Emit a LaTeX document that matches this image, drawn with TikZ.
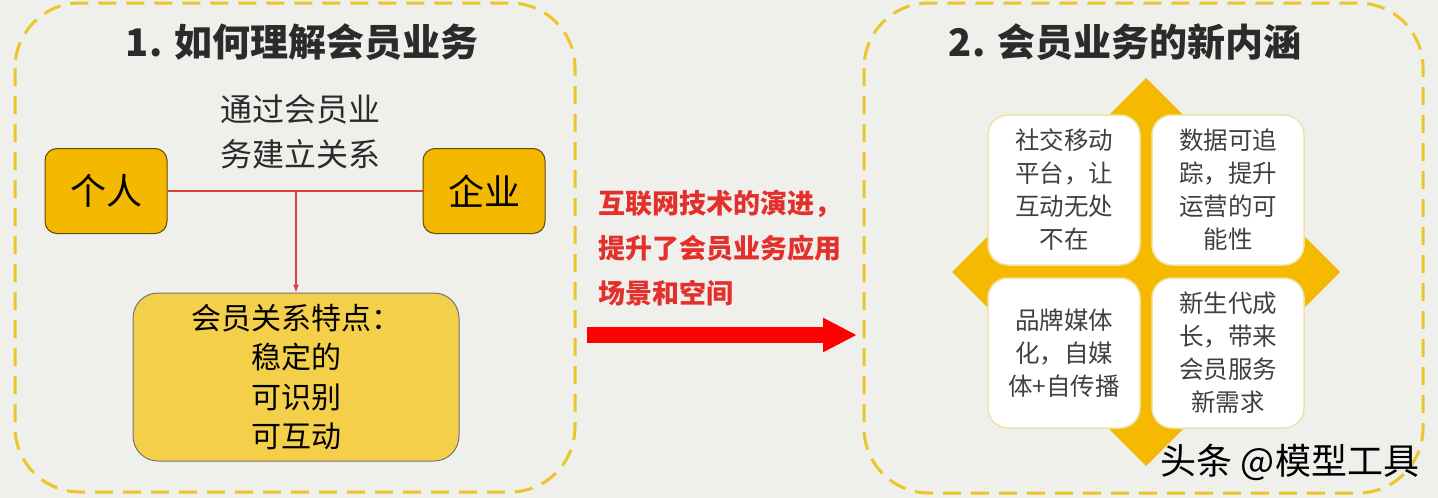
\documentclass[tikz,border=0pt]{standalone}
\usepackage{fontspec}
\setmainfont{Noto Sans CJK SC}
\usetikzlibrary{arrows.meta}
\definecolor{hintergrund}{HTML}{EFEFEC}
\definecolor{rahmengelb}{HTML}{EBC62A}
\definecolor{orangegelb}{HTML}{F5B800}
\definecolor{hellgelb}{HTML}{F4D04A}
\definecolor{linienrot}{HTML}{D9403A}
\definecolor{textrot}{HTML}{E3302D}
\definecolor{rautegelb}{HTML}{F5BA00}
\definecolor{kartenrand}{HTML}{EFE3A8}
\definecolor{dunkel}{HTML}{2B2B2B}
\begin{document}
\begin{tikzpicture}[x=1pt, y=-1pt, >={Latex[length=8pt,width=6pt]},
    rahmen/.style={draw=rahmengelb, line width=3pt, dash pattern=on 18pt off 10pt, rounded corners=65pt},
    titel/.style={font=\fontsize{38}{40}\selectfont\bfseries, text=dunkel},
    partner/.style={draw=black!60!orangegelb, line width=1pt, fill=orangegelb, rounded corners=12pt,
        minimum width=122pt, minimum height=85pt, font=\fontsize{36}{36}\selectfont},
    karte/.style={draw=kartenrand, line width=1.5pt, fill=white, rounded corners=20pt,
        minimum width=152pt, minimum height=150pt, align=center, text=dunkel!90,
        font=\fontsize{24.5}{33}\selectfont}]
% Hintergrund und feste Bildgroesse
\fill[hintergrund] (0,0) rectangle (1438,498);
\useasboundingbox (0,0) rectangle (1438,498);
% gestrichelte Rahmen
\draw[rahmen] (15,3) rectangle (575,492);
\draw[rahmen] (864,3) rectangle (1423,493);
% Ueberschriften
\node[titel] (titel1) at (302,42) {1. 如何理解会员业务};
\node[titel] (titel2) at (1125,42) {2. 会员业务的新内涵};
% linke Seite: Partner und Beziehung
\node[partner] (person) at (106,191) {个人};
\node[partner] (firma) at (484,191) {企业};
\node[align=center, font=\fontsize{32}{45}\selectfont, text=dunkel] (weg) at (300,132) {通过会员业\\务建立关系};
\node[draw=black!55, line width=1pt, fill=hellgelb, rounded corners=25pt, minimum width=326pt,
    minimum height=168pt, align=center, font=\fontsize{30}{39.5}\selectfont] (merkmale) at (296,377)
    {会员关系特点：\\稳定的\\可识别\\可互动};
\draw[linienrot, line width=1.2pt] (person.east) -- (firma.west);
\draw[linienrot, line width=1.2pt, ->] (merkmale.north |- person.east) -- (merkmale.north);
% Mitte: roter Text und Pfeil
\node[anchor=west, align=left, inner sep=0pt, text=textrot, font=\fontsize{27}{45}\selectfont\bfseries] (entwicklung) at (598,248)
    {互联网技术的演进，\\提升了会员业务应用\\场景和空间};
\coordinate (pfeilA) at (587,335);
\coordinate (pfeilB) at (857,335);
\draw[red, line width=16pt, -{Triangle[length=34pt,width=32pt]}] (pfeilA) -- (pfeilB);
% rechte Seite: Raute mit vier Karten
\fill[rautegelb] (1146,78) -- (1340,272) -- (1146,466) -- (952,272) -- cycle;
\node[karte] (sozial) at (1064,190) {社交移动\\平台，让\\互动无处\\不在};
\node[karte] (daten) at (1228,190) {数据可追\\踪，提升\\运营的可\\能性};
\node[karte] (medien) at (1064,353) {品牌媒体\\化，自媒\\体+自传播};
\node[karte] (generation) at (1228,353) {新生代成\\长，带来\\会员服务\\新需求};
% Wasserzeichen
\node[font=\fontsize{36}{36}\selectfont, text=black] (zeichen) at (1290,462) {头条 @模型工具};
\end{tikzpicture}
\end{document}
